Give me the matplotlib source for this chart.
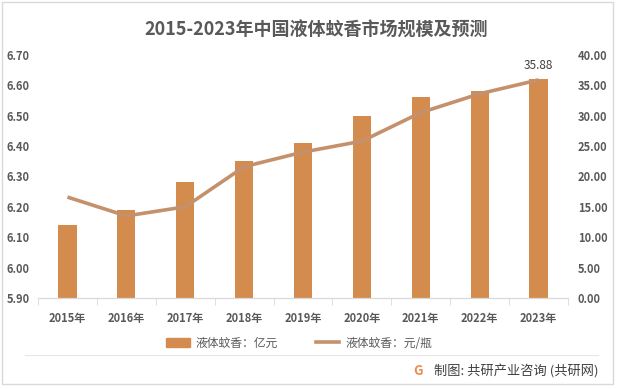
import matplotlib

matplotlib.use("Agg")
import matplotlib.pyplot as plt
import numpy as np
from matplotlib.lines import Line2D
from matplotlib.patches import Patch, Rectangle

plt.rcParams["font.family"] = ["Noto Sans CJK SC", "DejaVu Sans"]

years = ["2015年", "2016年", "2017年", "2018年", "2019年", "2020年", "2021年", "2022年", "2023年"]
market_size = [6.14, 6.19, 6.28, 6.35, 6.41, 6.50, 6.56, 6.58, 6.62]   # 亿元
unit_price = [16.6, 13.5, 15.0, 21.6, 24.0, 25.8, 30.5, 33.6, 35.88]  # 元/瓶
left_ticks = [5.90, 6.00, 6.10, 6.20, 6.30, 6.40, 6.50, 6.60, 6.70]
right_ticks = [0, 5, 10, 15, 20, 25, 30, 35, 40]

BAR_COLOR = "#D48C4E"
LINE_COLOR = "#C4916C"
TEXT_COLOR = "#595959"

fig = plt.figure(figsize=(6.17, 3.89), dpi=100)
ax = fig.add_axes([0.0616, 0.234, 0.859, 0.625])
ax2 = ax.twinx()

x = np.arange(len(years))
ax.bar(x, market_size, width=0.31, color=BAR_COLOR, bottom=0, zorder=2)
ax.set_ylim(5.90, 6.70)
ax.set_xlim(-0.5, len(years) - 0.5)
ax.set_yticks(left_ticks)
ax.set_yticklabels([f"{v:.2f}" for v in left_ticks])

ax2.plot(x, unit_price, color=LINE_COLOR, lw=2.6, solid_capstyle="butt", zorder=3)
ax2.set_ylim(0, 40)
ax2.set_yticks(right_ticks)
ax2.set_yticklabels([f"{v:.2f}" for v in right_ticks])
ax2.annotate(f"{unit_price[-1]:.2f}", (x[-1], unit_price[-1]), xytext=(0, 6),
             textcoords="offset points", ha="center", va="bottom",
             fontsize=8.5, color="#404040")

for a in (ax, ax2):
    for s in ("top", "left", "right"):
        a.spines[s].set_visible(False)
    a.spines["bottom"].set_color("#D9D9D9")
    a.tick_params(axis="y", length=0, labelsize=8, labelcolor=TEXT_COLOR)
for lab in ax.get_yticklabels() + ax2.get_yticklabels():
    lab.set_fontweight("bold")
ax.tick_params(axis="y", pad=6)
ax2.tick_params(axis="y", pad=7)

ax.set_xticks(x)
ax.set_xticklabels(years, fontsize=8, color=TEXT_COLOR, fontweight="bold")
ax.tick_params(axis="x", length=0, pad=10)
ax.set_xticks(np.arange(-0.5, len(years), 1), minor=True)
ax.tick_params(axis="x", which="minor", length=5, color="#D9D9D9")

fig.text(0.512, 0.922, "2015-2023年中国液体蚊香市场规模及预测", ha="center", va="center",
         fontsize=13, fontweight="bold", color=TEXT_COLOR)

handles = [Patch(color=BAR_COLOR), Line2D([], [], color=LINE_COLOR, lw=2.6)]
fig.legend(handles, ["液体蚊香：亿元", "液体蚊香：元/瓶"], loc="center",
           bbox_to_anchor=(0.485, 0.118), ncol=2, frameon=False, fontsize=8.5,
           labelcolor=TEXT_COLOR, handlelength=2.0, handleheight=0.9,
           columnspacing=3.2, handletextpad=0.5)

fig.add_artist(Line2D([0.04, 0.97], [0.087, 0.087], color="#E6E6E6", lw=0.8))
fig.add_artist(Rectangle((0.003, 0.013), 0.990, 0.982, fill=False,
                         edgecolor="#D9D9D9", lw=1.0, transform=fig.transFigure))
fig.text(0.677, 0.046, "G", ha="center", va="center", fontsize=9.5,
         fontweight="bold", color="#F08A4B")
fig.text(0.704, 0.046, "制图: 共研产业咨询 (共研网)", ha="left", va="center",
         fontsize=9.5, color="#404040")

fig.savefig("out.png", dpi=100)
